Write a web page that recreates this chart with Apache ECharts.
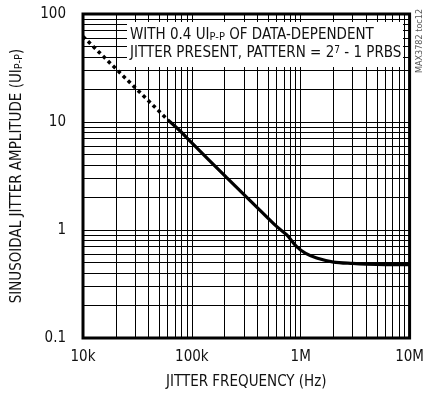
<!DOCTYPE html>
<html>
<head>
<meta charset="utf-8">
<style>
  html, body { margin: 0; padding: 0; background: #fff; }
  #chart { width: 427px; height: 396px; }
</style>
<script src="https://cdn.jsdelivr.net/npm/echarts@6/dist/echarts.min.js"></script>
</head>
<body>
<div id="chart"></div>
<script>
// jitter tolerance readings (frequency in Hz, amplitude in UIp-p)
const dashedFreq = [10000, 60000]
const dashedAmp = [62, 10.5]
const solidFreq = [60000, 77700, 100000, 209000, 421000, 600000, 745000, 918000, 1100000, 1400000, 2000000, 3000000, 4000000, 6000000, 10000000]
const solidAmp = [10.5, 8.3, 6.4, 3.05, 1.53, 1.08, 0.9, 0.7, 0.61, 0.55, 0.505, 0.49, 0.483, 0.478, 0.477]
const xTickLabels = { 10000: '10k', 100000: '100k', 1000000: '1M', 10000000: '10M' }
const yTickLabels = { 0.1: '0.1', 1: '1', 10: '10', 100: '100' }

const FONT = "'Liberation Sans Narrow', 'DejaVu Sans Condensed', 'Liberation Sans', sans-serif"

// minor log grid values (2..9 in each decade)
const minorX = []
for (const d of [1e4, 1e5, 1e6]) for (let k = 2; k <= 9; k++) minorX.push(k * d)
const minorY = []
for (const d of [0.1, 1, 10]) for (let k = 2; k <= 9; k++) minorY.push(+(k * d).toPrecision(3))

const chart = echarts.init(document.getElementById('chart'))
chart.setOption({
  animation: false,
  grid: { left: 83, right: 17, top: 14, bottom: 58, show: true, borderColor: '#000', borderWidth: 3, z: 5 },
  xAxis: {
    type: 'log', logBase: 10, min: 10000, max: 10000000,
    name: 'JITTER FREQUENCY (Hz)', nameLocation: 'middle', nameGap: 37,
    nameTextStyle: { fontFamily: FONT, fontSize: 15, color: '#111' },
    axisLine: { show: false },
    axisTick: { show: false },
    axisLabel: { fontFamily: FONT, fontSize: 15, color: '#111', margin: 12, formatter: v => xTickLabels[v] || '' },
    splitLine: { show: true, lineStyle: { color: '#000', width: 1 } }
  },
  yAxis: {
    type: 'log', logBase: 10, min: 0.1, max: 100,
    name: 'SINUSOIDAL JITTER AMPLITUDE (UI{s|P-P})', nameLocation: 'middle', nameGap: 58,
    nameTextStyle: {
      fontFamily: FONT, fontSize: 15, color: '#111',
      rich: { s: { fontFamily: FONT, fontSize: 11, color: '#111', padding: [5, 0, 0, 0] } }
    },
    axisLine: { show: false },
    axisTick: { show: false },
    axisLabel: { fontFamily: FONT, fontSize: 15, color: '#111', margin: 17, formatter: v => yTickLabels[+v.toPrecision(3)] || '' },
    splitLine: { show: true, lineStyle: { color: '#000', width: 1 } }
  },
  graphic: [
    { type: 'rect', z: 20, shape: { x: 127, y: 22, width: 276, height: 45 }, style: { fill: '#fff' } },
    {
      type: 'text', z: 21, left: 130, top: 26,
      style: {
        text: 'WITH 0.4 UI{s|P-P} OF DATA-DEPENDENT\nJITTER PRESENT, PATTERN = 2{p|7} - 1 PRBS',
        fontFamily: FONT, fontSize: 15, fill: '#111', lineHeight: 18,
        rich: {
          s: { fontFamily: FONT, fontSize: 11, fill: '#111', padding: [5, 0, 0, 0] },
          p: { fontFamily: FONT, fontSize: 10, fill: '#111', padding: [0, 0, 6, 0] }
        }
      }
    },
    {
      type: 'text', z: 21, x: 415, y: 73, rotation: Math.PI / 2,
      style: { text: 'MAX3782 toc12', fontFamily: FONT, fontSize: 9, fill: '#555' }
    }
  ],
  series: [
    {
      type: 'line', z: 10,
      data: dashedFreq.map((f, i) => [f, dashedAmp[i]]),
      symbol: 'none',
      lineStyle: { color: '#000', width: 3.5, type: [3.5, 3.5] },
      markLine: {
        silent: true, symbol: 'none', label: { show: false }, z: 3,
        lineStyle: { color: '#000', width: 1, type: 'solid' },
        data: minorX.map(v => ({ xAxis: v })).concat(minorY.map(v => ({ yAxis: v })))
      }
    },
    {
      type: 'line', z: 10, smooth: 0.3,
      data: solidFreq.map((f, i) => [f, solidAmp[i]]),
      symbol: 'none',
      lineStyle: { color: '#000', width: 3.2 }
    }
  ]
})
</script>
</body>
</html>
